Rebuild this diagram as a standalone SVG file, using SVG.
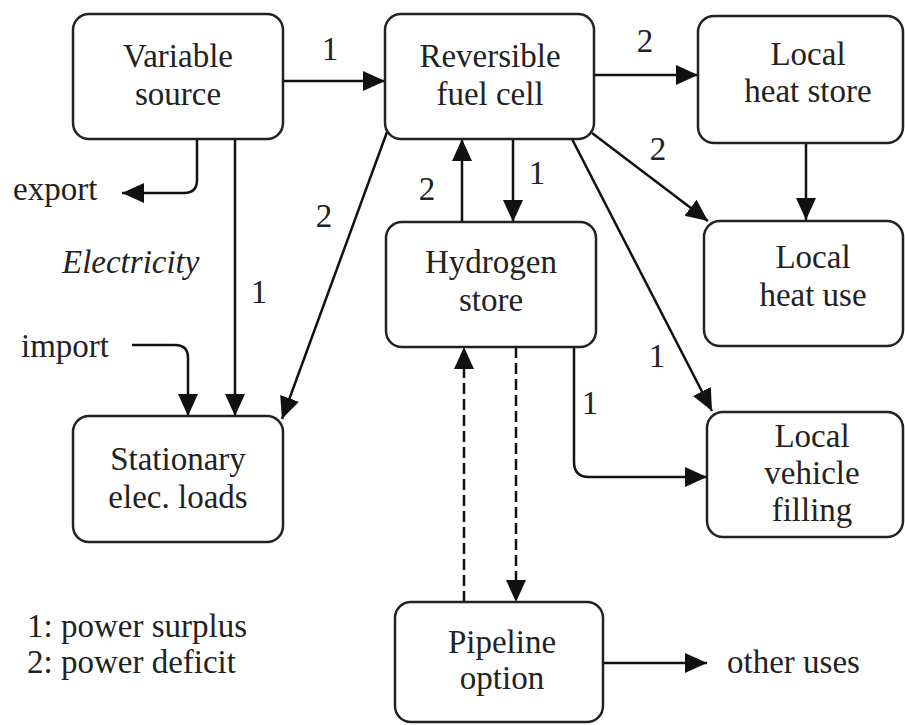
<svg xmlns="http://www.w3.org/2000/svg" width="905" height="725" viewBox="0 0 905 725">
<defs>
<marker id="ah" markerUnits="userSpaceOnUse" markerWidth="24" markerHeight="22" refX="22" refY="10" orient="auto"><path d="M0,0 L22,10 L0,20 z" fill="#111"/></marker>
</defs>
<rect width="905" height="725" fill="#fff"/>
<g id="connectors" fill="none" stroke="#111" stroke-width="2.5">
<path d="M283,81 H385" marker-end="url(#ah)"/>
<path d="M197,139 V180 Q197,193 184,193 H122" marker-end="url(#ah)"/>
<path d="M235,139 V416" marker-end="url(#ah)"/>
<path d="M132,345 H175 Q188,345 188,358 V416" marker-end="url(#ah)"/>
<path d="M387,132 L282,419" marker-end="url(#ah)"/>
<path d="M594,75 H698" marker-end="url(#ah)"/>
<path d="M592,133 L708,221" marker-end="url(#ah)"/>
<path d="M513,139 V222" marker-end="url(#ah)"/>
<path d="M462,222 V139" marker-end="url(#ah)"/>
<path d="M572,139 L712,411" marker-end="url(#ah)"/>
<path d="M806,143 V220" marker-end="url(#ah)"/>
<path d="M574,347 V462 Q574,477 589,477 H707" marker-end="url(#ah)"/>
<path d="M464,602 V347" stroke-dasharray="11,5" marker-end="url(#ah)"/>
<path d="M516,347 V602" stroke-dasharray="11,5" marker-end="url(#ah)"/>
<path d="M603,663 H707" marker-end="url(#ah)"/>
</g>
<g id="connector-labels">
<text font-family="Liberation Serif" font-size="33" fill="#222" text-anchor="middle" x="330" y="60">1</text>
<text font-family="Liberation Serif" font-size="33" fill="#222" text-anchor="middle" x="645" y="52">2</text>
<text font-family="Liberation Serif" font-size="33" fill="#222" text-anchor="middle" x="658" y="160">2</text>
<text font-family="Liberation Serif" font-size="33" fill="#222" text-anchor="middle" x="537" y="184">1</text>
<text font-family="Liberation Serif" font-size="33" fill="#222" text-anchor="middle" x="427" y="200">2</text>
<text font-family="Liberation Serif" font-size="33" fill="#222" text-anchor="middle" x="324" y="227">2</text>
<text font-family="Liberation Serif" font-size="33" fill="#222" text-anchor="middle" x="259" y="303">1</text>
<text font-family="Liberation Serif" font-size="33" fill="#222" text-anchor="middle" x="657" y="367">1</text>
<text font-family="Liberation Serif" font-size="33" fill="#222" text-anchor="middle" x="590" y="414">1</text>
</g>
<g id="variable-source"><rect fill="#fff" stroke="#222" stroke-width="2.5" x="73" y="14" width="210" height="125" rx="16"/><text font-family="Liberation Serif" font-size="33" fill="#222" text-anchor="middle" x="178" y="67">Variable</text><text font-family="Liberation Serif" font-size="33" fill="#222" text-anchor="middle" x="178" y="105">source</text></g>
<g id="reversible-fuel-cell"><rect fill="#fff" stroke="#222" stroke-width="2.5" x="385" y="14" width="209" height="125" rx="16"/><text font-family="Liberation Serif" font-size="33" fill="#222" text-anchor="middle" x="490" y="67">Reversible</text><text font-family="Liberation Serif" font-size="33" fill="#222" text-anchor="middle" x="490" y="105">fuel cell</text></g>
<g id="local-heat-store"><rect fill="#fff" stroke="#222" stroke-width="2.5" x="698" y="16" width="205" height="127" rx="16"/><text font-family="Liberation Serif" font-size="33" fill="#222" text-anchor="middle" x="808" y="65">Local</text><text font-family="Liberation Serif" font-size="33" fill="#222" text-anchor="middle" x="808" y="102">heat store</text></g>
<g id="hydrogen-store"><rect fill="#fff" stroke="#222" stroke-width="2.5" x="386" y="222" width="210" height="125" rx="16"/><text font-family="Liberation Serif" font-size="33" fill="#222" text-anchor="middle" x="491" y="273">Hydrogen</text><text font-family="Liberation Serif" font-size="33" fill="#222" text-anchor="middle" x="491" y="311">store</text></g>
<g id="local-heat-use"><rect fill="#fff" stroke="#222" stroke-width="2.5" x="704" y="221" width="199" height="125" rx="16"/><text font-family="Liberation Serif" font-size="33" fill="#222" text-anchor="middle" x="813" y="268">Local</text><text font-family="Liberation Serif" font-size="33" fill="#222" text-anchor="middle" x="813" y="306">heat use</text></g>
<g id="local-vehicle-filling"><rect fill="#fff" stroke="#222" stroke-width="2.5" x="707" y="412" width="196" height="125" rx="16"/><text font-family="Liberation Serif" font-size="33" fill="#222" text-anchor="middle" x="812" y="447">Local</text><text font-family="Liberation Serif" font-size="33" fill="#222" text-anchor="middle" x="812" y="484">vehicle</text><text font-family="Liberation Serif" font-size="33" fill="#222" text-anchor="middle" x="812" y="521">filling</text></g>
<g id="stationary-elec-loads"><rect fill="#fff" stroke="#222" stroke-width="2.5" x="73" y="416" width="210" height="126" rx="16"/><text font-family="Liberation Serif" font-size="33" fill="#222" text-anchor="middle" x="178" y="470">Stationary</text><text font-family="Liberation Serif" font-size="33" fill="#222" text-anchor="middle" x="178" y="508">elec. loads</text></g>
<g id="pipeline-option"><rect fill="#fff" stroke="#222" stroke-width="2.5" x="395" y="602" width="208" height="120" rx="16"/><text font-family="Liberation Serif" font-size="33" fill="#222" text-anchor="middle" x="502" y="653">Pipeline</text><text font-family="Liberation Serif" font-size="33" fill="#222" text-anchor="middle" x="502" y="689">option</text></g>
<g id="labels">
<text font-family="Liberation Serif" font-size="33" fill="#222" x="13" y="200">export</text>
<text font-family="Liberation Serif" font-size="33" fill="#222" x="62" y="273" font-style="italic">Electricity</text>
<text font-family="Liberation Serif" font-size="33" fill="#222" x="21" y="357">import</text>
<text font-family="Liberation Serif" font-size="33" fill="#222" x="727" y="673">other uses</text>
<text font-family="Liberation Serif" font-size="33" fill="#222" x="27" y="637">1: power surplus</text>
<text font-family="Liberation Serif" font-size="33" fill="#222" x="27" y="673">2: power deficit</text>
</g>
</svg>
